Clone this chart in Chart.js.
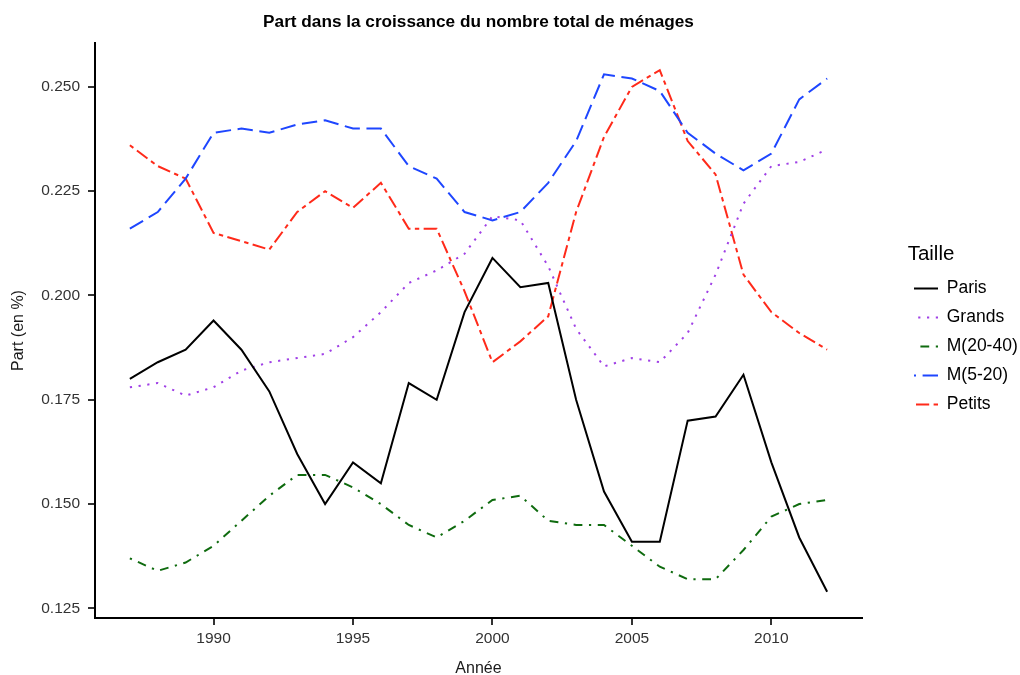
<!DOCTYPE html>
<html lang="fr">
<head>
<meta charset="utf-8">
<title>Part dans la croissance du nombre total de ménages</title>
<script src="https://cdn.jsdelivr.net/npm/chart.js@4.4.1/dist/chart.umd.min.js"></script>
<style>
  html, body { margin: 0; padding: 0; background: #fff; }
  #wrap { width: 1020px; height: 675px; }
</style>
</head>
<body>
<div id="wrap"><canvas id="chart"></canvas></div>
<script>
const years = [1987, 1988, 1989, 1990, 1991, 1992, 1993, 1994, 1995, 1996, 1997, 1998, 1999,
               2000, 2001, 2002, 2003, 2004, 2005, 2006, 2007, 2008, 2009, 2010, 2011, 2012];

const paris = [0.180, 0.184, 0.187, 0.194, 0.187, 0.177, 0.162, 0.150, 0.160, 0.155, 0.179, 0.175, 0.196,
               0.209, 0.202, 0.203, 0.175, 0.153, 0.141, 0.141, 0.170, 0.171, 0.181, 0.160, 0.142, 0.129];
const grands = [0.178, 0.179, 0.176, 0.178, 0.182, 0.184, 0.185, 0.186, 0.190, 0.196, 0.203, 0.206, 0.210,
                0.219, 0.218, 0.207, 0.192, 0.183, 0.185, 0.184, 0.191, 0.205, 0.222, 0.231, 0.232, 0.235];
const m2040 = [0.137, 0.134, 0.136, 0.140, 0.146, 0.152, 0.157, 0.157, 0.154, 0.150, 0.145, 0.142, 0.146,
               0.151, 0.152, 0.146, 0.145, 0.145, 0.140, 0.135, 0.132, 0.132, 0.139, 0.147, 0.150, 0.151];
const m520 = [0.216, 0.220, 0.228, 0.239, 0.240, 0.239, 0.241, 0.242, 0.240, 0.240, 0.231, 0.228, 0.220,
              0.218, 0.220, 0.227, 0.237, 0.253, 0.252, 0.249, 0.239, 0.234, 0.230, 0.234, 0.247, 0.252];
const petits = [0.236, 0.231, 0.228, 0.215, 0.213, 0.211, 0.220, 0.225, 0.221, 0.227, 0.216, 0.216, 0.201,
                0.184, 0.189, 0.195, 0.220, 0.238, 0.250, 0.254, 0.237, 0.229, 0.205, 0.196, 0.191, 0.187];

const seriesNames = ["Paris", "Grands", "M(20-40)", "M(5-20)", "Petits"];
const xTicks = [1990, 1995, 2000, 2005, 2010];
const yTicks = [0.125, 0.150, 0.175, 0.200, 0.225, 0.250];

// ggplot line types (dotted, dotdash, longdash, twodash), scaled to the line width
const colors = ["#000000", "#a040e6", "#0f6b0f", "#1e46ff", "#ff2a1a"];
const dashes = [[], [2.2, 6.6], [2.2, 6.6, 8.8, 6.6], [15.4, 6.6], [4.4, 4.4, 13.2, 4.4]];

// legend sample: the pattern cut to `drawn` px, mirrored since Chart.js strokes the legend line right to left
function legendDash(pattern, drawn, total) {
  const on = [];
  if (!pattern.length) on.push([0, drawn]);
  else {
    let t = 0, i = 0;
    while (t < drawn) {
      const len = pattern[i % pattern.length];
      if (i % 2 === 0) on.push([t, Math.min(t + len, drawn)]);
      t += len; i++;
    }
  }
  const segs = on.map(([a, b]) => [total - b, total - a]).sort((p, q) => p[0] - q[0]);
  const dash = [0];
  let cur = 0;
  segs.forEach(([a, b]) => { dash.push(a - cur, b - a); cur = b; });
  dash.push(100);
  return dash;
}

const LEG_BOX = 30;

// put the legend where ggplot has it; width only centres the title, right sets the clip box
const legendSpot = {
  id: "legendSpot",
  afterLayout(chart) {
    const lg = chart.legend;
    lg.left = 896.5; lg.width = 69; lg.right = 1020;
    lg.top = 243.75; lg.height = 300; lg.bottom = lg.top + lg.height;
  }
};

const allSeries = [paris, grands, m2040, m520, petits];

const ctx = document.getElementById("chart").getContext("2d");
const chart = new Chart(ctx, {
  type: "line",
  data: {
    datasets: allSeries.map((vals, i) => ({
      label: seriesNames[i],
      data: years.map((yr, j) => ({ x: yr, y: vals[j] })),
      borderColor: colors[i],
      backgroundColor: colors[i],
      borderWidth: 2,
      borderDash: dashes[i],
      pointRadius: 0,
      tension: 0,
      fill: false
    }))
  },
  options: {
    responsive: true,
    maintainAspectRatio: false,
    animation: false,
    devicePixelRatio: 1,
    layout: { padding: { left: 0, right: 58, top: 0, bottom: 0 } },
    plugins: {
      title: {
        display: true,
        text: "Part dans la croissance du nombre total de ménages",
        fullSize: false,
        color: "#000",
        font: { family: "Liberation Sans, Arial, sans-serif", size: 17.2, weight: "bold" },
        padding: { top: 11.8, bottom: 10.6 }
      },
      legend: {
        position: "right",
        align: "start",
        maxWidth: 100,
        title: {
          display: true,
          text: "Taille",
          position: "center",
          color: "#000",
          font: { family: "Liberation Sans, Arial, sans-serif", size: 20.5 },
          padding: 0
        },
        labels: {
          usePointStyle: true,
          pointStyle: "line",
          pointStyleWidth: LEG_BOX,
          padding: 11.5,
          color: "#000",
          font: { family: "Liberation Sans, Arial, sans-serif", size: 17.5 },
          generateLabels(c) {
            const items = Chart.defaults.plugins.legend.labels.generateLabels(c);
            items.forEach((it, i) => {
              it.lineDash = legendDash(dashes[i], 24, LEG_BOX);
              it.lineWidth = 2;
              it.strokeStyle = colors[i];
            });
            return items;
          }
        }
      },
      tooltip: { enabled: false }
    },
    scales: {
      x: {
        type: "linear",
        min: 1985.75,
        max: 2013.25,
        afterBuildTicks: s => { s.ticks = xTicks.map(v => ({ value: v })); },
        afterFit: s => { s.height = 57; },
        ticks: {
          color: "#333",
          padding: 4,
          font: { family: "Liberation Sans, Arial, sans-serif", size: 15.5 },
          callback: v => String(v)
        },
        grid: { display: true, drawOnChartArea: false, drawTicks: true, tickLength: 7, color: "#333", lineWidth: 2 },
        border: { display: true, color: "#000", width: 2 },
        title: {
          display: true,
          text: "Année",
          color: "#1a1a1a",
          font: { family: "Liberation Sans, Arial, sans-serif", size: 16, lineHeight: 0.75 },
          padding: 0
        }
      },
      y: {
        type: "linear",
        min: 0.1227,
        max: 0.2605,
        afterBuildTicks: s => { s.ticks = yTicks.map(v => ({ value: v })); },
        afterFit: s => { s.width = 95; },
        ticks: {
          color: "#333",
          padding: 8,
          font: { family: "Liberation Sans, Arial, sans-serif", size: 15.5 },
          callback: v => Number(v).toFixed(3)
        },
        grid: { display: true, drawOnChartArea: false, drawTicks: true, tickLength: 7, color: "#333", lineWidth: 2 },
        border: { display: true, color: "#000", width: 2 },
        title: {
          display: true,
          text: "Part (en %)",
          color: "#1a1a1a",
          font: { family: "Liberation Sans, Arial, sans-serif", size: 16 },
          padding: { top: 8.7, bottom: 0 }
        }
      }
    }
  },
  plugins: [legendSpot]
});
</script>
</body>
</html>
